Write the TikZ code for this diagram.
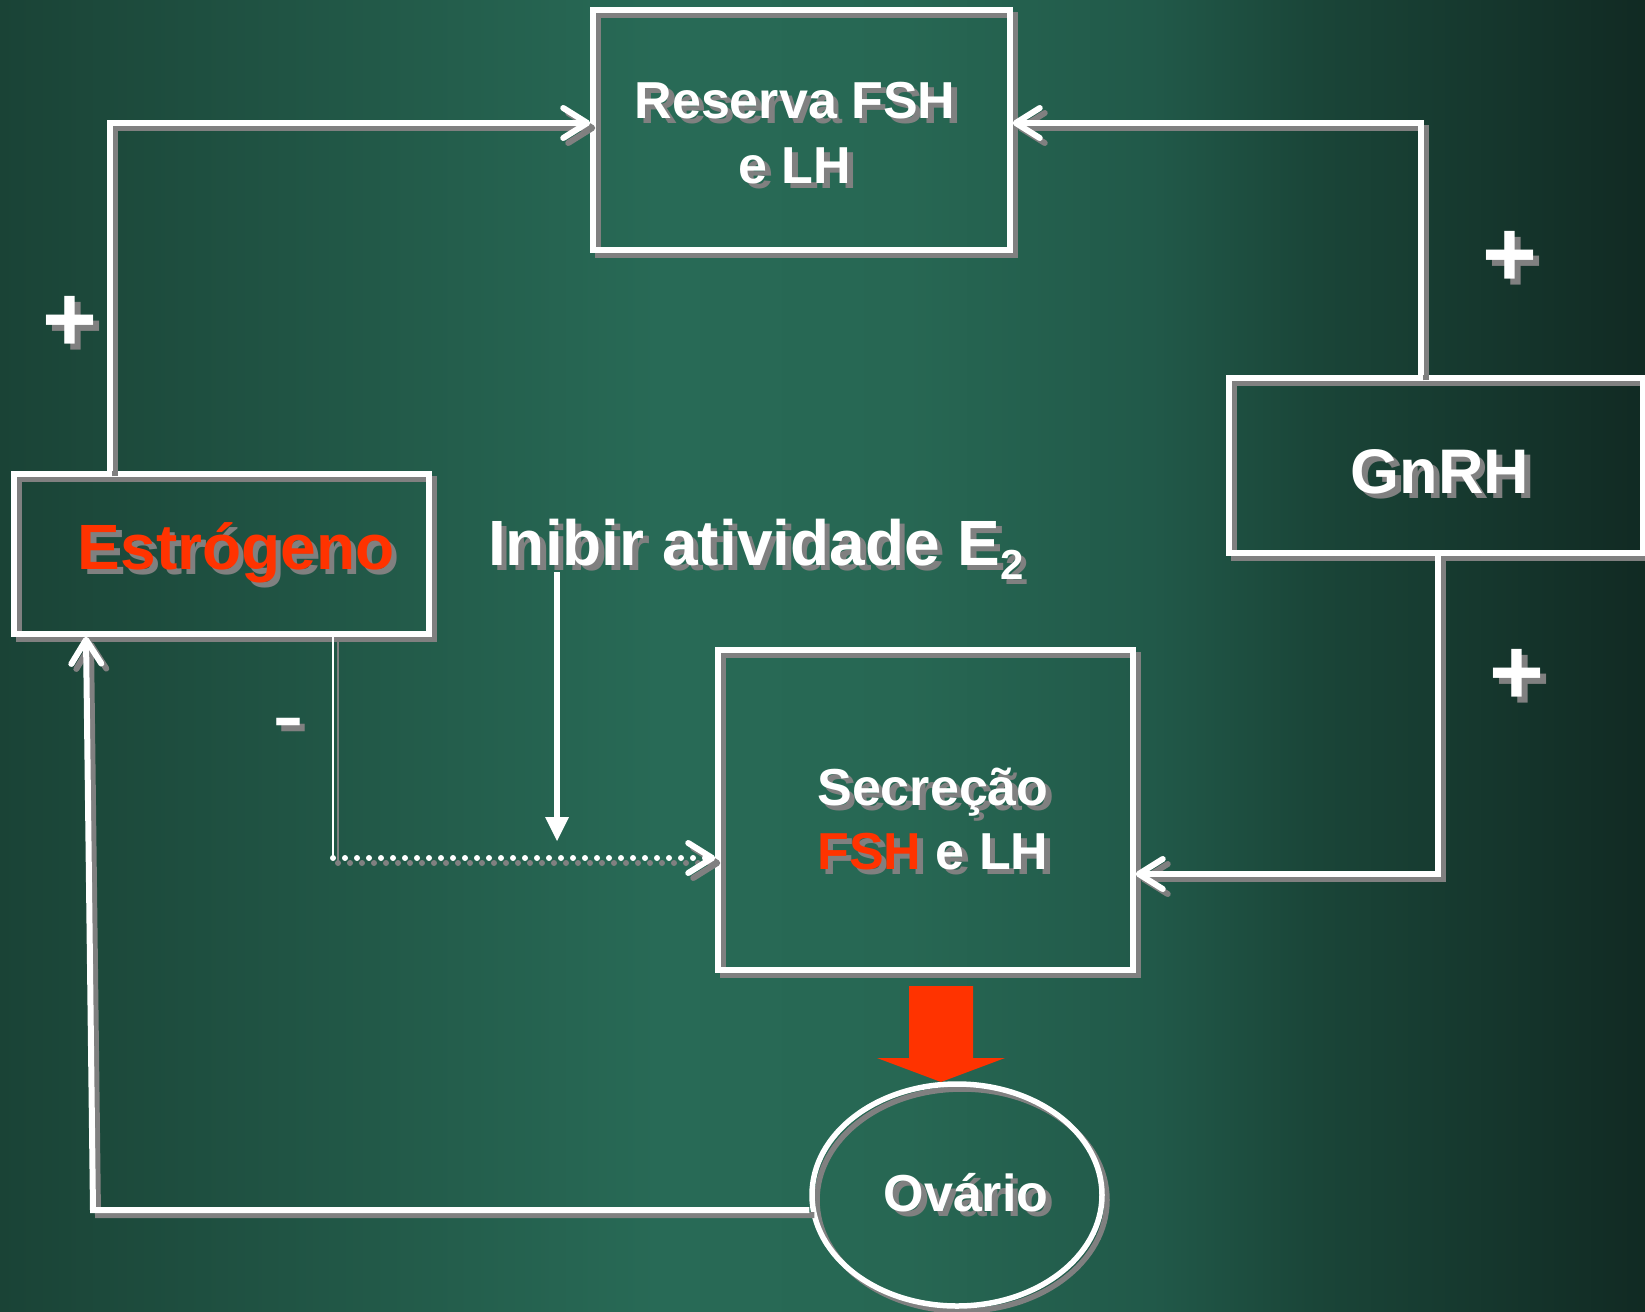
\documentclass[tikz,border=0pt]{standalone}
\usepackage{fontspec}
\setmainfont{Liberation Sans}
\usetikzlibrary{arrows.meta,shapes.geometric}

\definecolor{shgray}{HTML}{808080}
\definecolor{hotred}{HTML}{FF3300}
\definecolor{bgA}{HTML}{1A4336}
\definecolor{bgB}{HTML}{286A56}
\definecolor{bgC}{HTML}{276753}
\definecolor{bgD}{HTML}{215949}
\definecolor{bgE}{HTML}{1A4538}
\definecolor{bgF}{HTML}{112A23}

% board background, dark at the edges and lighter left of centre
% (the path is mapped onto the 25bp--75bp band of the shading)
\pgfdeclarehorizontalshading{board}{100bp}{color(0bp)=(bgA); color(25bp)=(bgA); color(45bp)=(bgB); color(52.5bp)=(bgC); color(60bp)=(bgD); color(65bp)=(bgE); color(75bp)=(bgF); color(100bp)=(bgF)}

% text with a grey drop shadow
\newcommand\shtxt[2][white]{\leavevmode\rlap{\kern5.5pt\raisebox{-5.5pt}{\textcolor{shgray}{#2}}}\textcolor{#1}{#2}}

% the feedback connectors, drawn in a given colour
\newcommand\feedbacklines[1]{%
  \draw[wire, draw=#1, barb] (estro.north -| tl) |- (reserva.west |- tl);
  \draw[wire, draw=#1, barb] (gnrh.north -| tr) |- (reserva.east |- tr);
  \draw[wire, draw=#1, barb] (gnrh.south -| br) |- (secr.east |- br);
  \draw[wire, draw=#1, barb] (ovario.west |- bl) -- (bl) -- (estro.south -| el);
  \draw[draw=#1, line width=1.5pt] (estro.south -| dt) -- (dt);
  \draw[wire, draw=#1, line cap=round, dash pattern=on 0pt off 12pt, barb] (dt) -- (secr.west |- dt);
}

\begin{document}
\begin{tikzpicture}[x=1pt, y=-1pt,
  wire/.style={line width=6pt},
  castshadow/.style={preaction={draw=shgray, transform canvas={shift={(5pt,-5pt)}}}},
  panel/.style={rectangle, draw=white, line width=5.5pt, castshadow, inner sep=0pt, outer sep=2.75pt},
  barb/.style={-{Straight Barb[length=24pt, width=30pt, round]}},
  txt/.style={inner sep=0pt, anchor=base, font=\fontsize{52}{60}\selectfont\bfseries},
  sign/.style={inner sep=0pt, anchor=center, font=\fontsize{94}{94}\selectfont\bfseries},
]
\useasboundingbox (0,0) rectangle (1645,1311);
\clip (0,0) rectangle (1645,1311);
\shade[shading=board] (0,0) rectangle (1645,1311);

% boxes
\node[panel, minimum width=417pt, minimum height=240pt] (reserva) at (801.5,130) {};
\node[panel, minimum width=415pt, minimum height=160pt] (estro) at (221.5,554) {};
\node[panel, minimum width=414pt, minimum height=175pt] (gnrh) at (1436,465.5) {};
\node[panel, minimum width=415pt, minimum height=320pt] (secr) at (925.5,810) {};
\node[ellipse, draw=white, line width=5.5pt, castshadow, inner sep=0pt, outer sep=2.75pt,
      minimum width=290pt, minimum height=222pt] (ovario) at (957,1195) {};

% texts
\node[txt] (resA) at (795,118) {\shtxt{Reserva FSH}};
\node[txt] (resB) at (795,183) {\shtxt{e LH}};
\node[txt, font=\fontsize{64}{70}\selectfont\bfseries] (estroT) at (236,569) {\shtxt[hotred]{Estrógeno}};
\node[txt, font=\fontsize{63}{70}\selectfont\bfseries] (gnrhT) at (1440,493) {\shtxt{GnRH}};
\node[txt, anchor=base west, font=\fontsize{64}{70}\selectfont\bfseries] (inibT) at (488,565)
  {\shtxt{Inibir atividade E}\shtxt{\raisebox{-14pt}{\fontsize{42}{42}\selectfont 2}}};
\node[txt] (secA) at (933,805) {\shtxt{Secreção}};
\node[txt] (secB) at (933,869) {\shtxt[hotred]{FSH} \shtxt{e LH}};
\node[txt] (ovT) at (966,1211) {\shtxt{Ovário}};

% signs
\node[sign] (plusL) at (70,327) {\shtxt{+}};
\node[sign] (plusT) at (1510,262) {\shtxt{+}};
\node[sign] (plusB) at (1517,680) {\shtxt{+}};
\node[sign, font=\fontsize{96}{96}\selectfont] (minus) at (288,736) {\shtxt{-}};

% connector bends
\coordinate (tl) at (110,123);
\coordinate (tr) at (1421,123);
\coordinate (br) at (1438,874);
\coordinate (bl) at (93,1210);
\coordinate (el) at (86,0);
\coordinate (dt) at (333,858);
\coordinate (ia) at (557,572);
\coordinate (ib) at (557,841);

% connectors: grey shadow first, white on top
\begin{scope}[transform canvas={shift={(5pt,-5pt)}}]
  \feedbacklines{shgray}
\end{scope}
\feedbacklines{white}
\draw[draw=white, line width=6.5pt, -{Triangle[length=24pt, width=24pt, line width=0pt]}] (ia) -- (ib);

% block arrow from the secretion box down to the ovary
\fill[hotred] (909,986) -- (973,986) -- (973,1058) -- (1005,1058) -- (941,1082)
  -- (877,1058) -- (909,1058) -- cycle;
\end{tikzpicture}
\end{document}
